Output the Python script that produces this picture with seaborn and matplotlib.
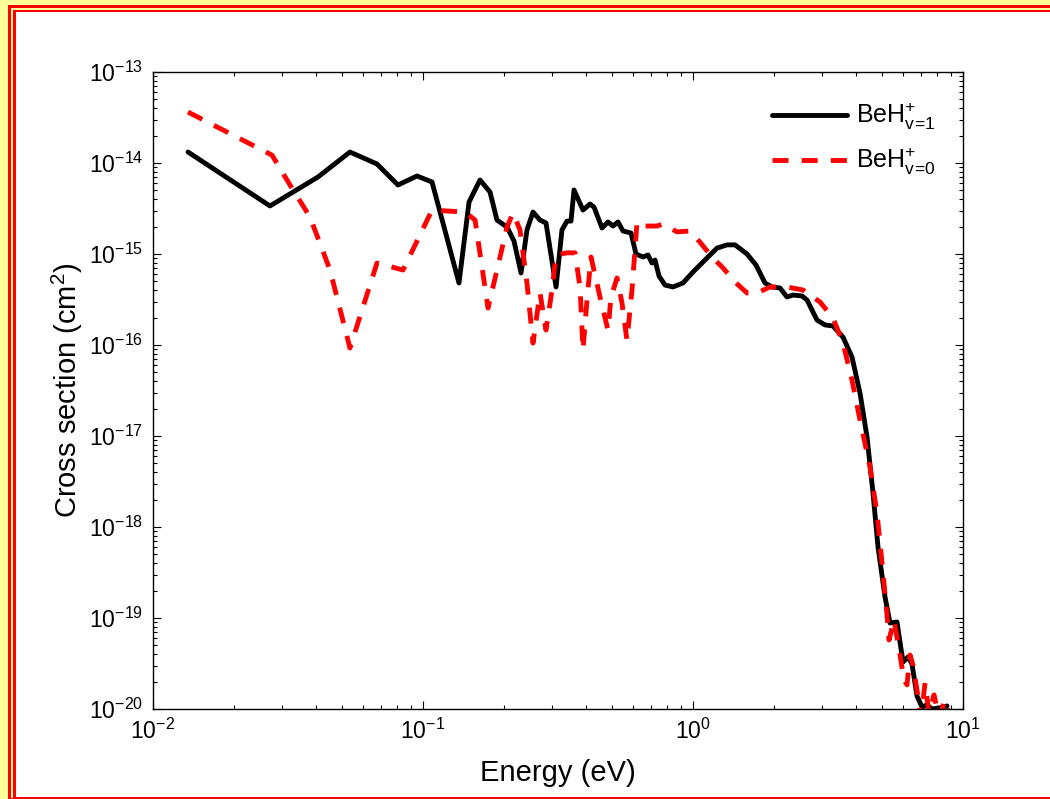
import matplotlib
matplotlib.use("Agg")
import matplotlib.pyplot as plt
from matplotlib.patches import Rectangle
import seaborn as sns
import pandas as pd
import numpy as np

# ---- data ----
energy_v1 = [0.01348, 0.02712, 0.04084, 0.05364, 0.06754, 0.08078, 0.09501, 0.1080,
             0.1359, 0.1481, 0.1626, 0.1771, 0.1879, 0.2047, 0.2173, 0.2307, 0.2427,
             0.2555, 0.2712, 0.2855, 0.3110, 0.3271, 0.3415, 0.3533, 0.3625, 0.3914,
             0.4154, 0.4298, 0.4603, 0.4844, 0.5055, 0.5275, 0.5504, 0.5894, 0.6151,
             0.6529, 0.6813, 0.7049, 0.7233, 0.7484, 0.7875, 0.8429, 0.9183, 1.0,
             1.127, 1.227, 1.336, 1.431, 1.585, 1.711, 1.848, 1.962, 2.100, 2.229,
             2.346, 2.533, 2.644, 2.879, 3.083, 3.300, 3.594, 3.880, 4.154, 4.411,
             4.642, 4.844, 5.142, 5.366, 5.695, 5.995, 6.256, 6.474, 6.754, 7.049,
             7.356, 7.677, 8.219, 8.724]
sigma_v1 = [1.32e-14, 3.37e-15, 7.02e-15, 1.32e-14, 9.75e-15, 5.73e-15, 7.20e-15, 6.18e-15,
            4.80e-16, 3.73e-15, 6.50e-15, 4.80e-15, 2.36e-15, 1.98e-15, 1.39e-15, 6.18e-16,
            1.84e-15, 2.89e-15, 2.36e-15, 2.19e-15, 4.34e-16, 1.84e-15, 2.30e-15, 2.30e-15,
            5.05e-15, 3.04e-15, 3.54e-15, 3.28e-15, 1.93e-15, 2.25e-15, 2.03e-15, 2.25e-15,
            1.79e-15, 1.70e-15, 1.00e-15, 9.27e-16, 9.75e-16, 7.96e-16, 8.59e-16, 5.73e-16,
            4.56e-16, 4.34e-16, 4.80e-16, 6.34e-16, 9.04e-16, 1.16e-15, 1.26e-15, 1.26e-15,
            1.00e-15, 7.57e-16, 4.80e-16, 4.34e-16, 4.23e-16, 3.37e-16, 3.54e-16, 3.46e-16,
            3.12e-16, 1.88e-16, 1.66e-16, 1.62e-16, 1.22e-16, 7.38e-17, 2.97e-17, 9.75e-18,
            2.36e-18, 6.03e-19, 1.70e-19, 8.81e-20, 9.04e-20, 3.28e-20, 3.73e-20, 3.12e-20,
            1.39e-20, 1.05e-20, 1.11e-20, 1.00e-20, 1.03e-20, 1.08e-20]

energy_v0 = [0.01348, 0.02759, 0.03217, 0.03815, 0.04524, 0.05364, 0.06754, 0.08431,
             0.1080, 0.1431, 0.1559, 0.1741, 0.1929, 0.2047, 0.2154, 0.2287, 0.2427,
             0.2555, 0.2712, 0.2855, 0.3005, 0.3110, 0.3415, 0.3656, 0.3815, 0.3914,
             0.4050, 0.4189, 0.4524, 0.4844, 0.4970, 0.5231, 0.5458, 0.5695, 0.5944,
             0.6204, 0.6529, 0.7356, 0.7743, 0.8724, 0.9747, 1.061, 1.176, 1.292,
             1.431, 1.585, 1.726, 1.929, 2.229, 2.555, 2.954, 3.300, 3.594, 3.880,
             4.154, 4.524, 4.802, 5.012, 5.231, 5.321, 5.552, 5.843, 6.045, 6.203,
             6.364, 6.530, 6.754, 6.989, 7.234, 7.484, 7.810, 8.150, 8.577, 8.950]
sigma_v0 = [3.63e-14, 1.22e-14, 5.73e-15, 2.55e-15, 6.67e-16, 9.27e-17, 7.96e-16, 6.67e-16,
            3.04e-15, 2.89e-15, 2.36e-15, 2.55e-16, 9.27e-16, 1.98e-15, 2.82e-15, 1.84e-15,
            4.80e-16, 1.05e-16, 3.73e-16, 1.46e-16, 4.02e-16, 9.75e-16, 1.03e-15, 1.03e-15,
            4.34e-16, 8.81e-17, 3.12e-16, 9.27e-16, 3.37e-16, 1.46e-16, 3.37e-16, 5.45e-16,
            2.89e-16, 1.13e-16, 4.02e-16, 2.25e-15, 2.03e-15, 2.03e-15, 2.14e-15, 1.75e-15,
            1.79e-15, 1.35e-15, 9.27e-16, 7.02e-16, 4.92e-16, 3.73e-16, 3.73e-16, 4.34e-16,
            4.34e-16, 4.02e-16, 2.97e-16, 1.98e-16, 1.05e-16, 4.12e-17, 1.50e-17, 4.56e-18,
            1.43e-18, 4.02e-19, 1.08e-19, 5.73e-20, 9.51e-20, 3.92e-20, 2.08e-20, 1.84e-20,
            3.92e-20, 3.04e-20, 1.62e-20, 8.0e-21, 1.93e-20, 9.0e-21, 1.43e-20, 8.0e-21,
            1.26e-20, 8.0e-21]

label_v1 = r"BeH$^{+}_{\mathrm{v\!=\!1}}$"
label_v0 = r"BeH$^{+}_{\mathrm{v\!=\!0}}$"
x_label = "Energy (eV)"
y_label = r"Cross section (cm$^{2}$)"

# ---- style ----
sns.set_theme(style="white")
plt.rcParams["font.family"] = ["Liberation Sans", "DejaVu Sans"]
plt.rcParams["mathtext.fontset"] = "custom"
plt.rcParams["mathtext.rm"] = "Liberation Sans"
plt.rcParams["mathtext.it"] = "Liberation Sans:italic"
plt.rcParams["mathtext.bf"] = "Liberation Sans:bold"
plt.rcParams["axes.unicode_minus"] = True
plt.rcParams["text.color"] = "black"
plt.rcParams["axes.labelcolor"] = "black"
plt.rcParams["xtick.color"] = "black"
plt.rcParams["ytick.color"] = "black"

W, H = 1050, 799
fig = plt.figure(figsize=(W / 100, H / 100), dpi=100)
fig.patch.set_facecolor("#FFFF99")

def px_rect(x0, y0, x1, y1, color):
    r = Rectangle((x0 / W, 1 - y1 / H), (x1 - x0) / W, (y1 - y0) / H,
                  transform=fig.transFigure, facecolor=color, edgecolor="none", zorder=-10)
    fig.add_artist(r)

px_rect(8, 5, W + 5, H + 5, "#FF0000")
px_rect(11, 7.5, W + 5, 798.2, "#FFFF99")
px_rect(13, 10, W + 5, 797.5, "#FF0000")
px_rect(16, 12, W + 5, 796.5, "white")

ax = fig.add_axes([153 / W, 1 - 709 / H, 810 / W, 637 / H])
ax.set_facecolor("white")

df1 = pd.DataFrame({"E": energy_v1, "S": sigma_v1})
df0 = pd.DataFrame({"E": energy_v0, "S": sigma_v0})

sns.lineplot(data=df1, x="E", y="S", ax=ax, color="black", lw=3.5,
             sort=False, estimator=None, label=label_v1)
sns.lineplot(data=df0, x="E", y="S", ax=ax, color="#FF0000", lw=3.5,
             sort=False, estimator=None, label=label_v0)
ax.lines[1].set_dashes([3.3, 2.7])

ax.set_xscale("log")
ax.set_yscale("log")
ax.set_xlim(1e-2, 1e1)
ax.set_ylim(1e-20, 1e-13)

for s in ax.spines.values():
    s.set_visible(True)
    s.set_color("black")
    s.set_linewidth(1.0)

ax.tick_params(which="both", direction="in", top=True, right=True,
               bottom=True, left=True, colors="black", labelsize=16.5)
ax.tick_params(which="major", length=6, width=0.8, pad=7)
ax.tick_params(which="minor", length=3, width=0.8)

ax.set_xlabel(x_label, fontsize=21, labelpad=11)
ax.set_ylabel(y_label, fontsize=21, labelpad=3)

leg = ax.legend(loc="upper right", frameon=False, fontsize=18,
                handlelength=3.0, handletextpad=0.35, labelspacing=0.55,
                bbox_to_anchor=(0.985, 0.978), borderaxespad=0.2)
for t in leg.get_texts():
    t.set_color("black")

fig.savefig("out.png", dpi=100, facecolor=fig.get_facecolor())
